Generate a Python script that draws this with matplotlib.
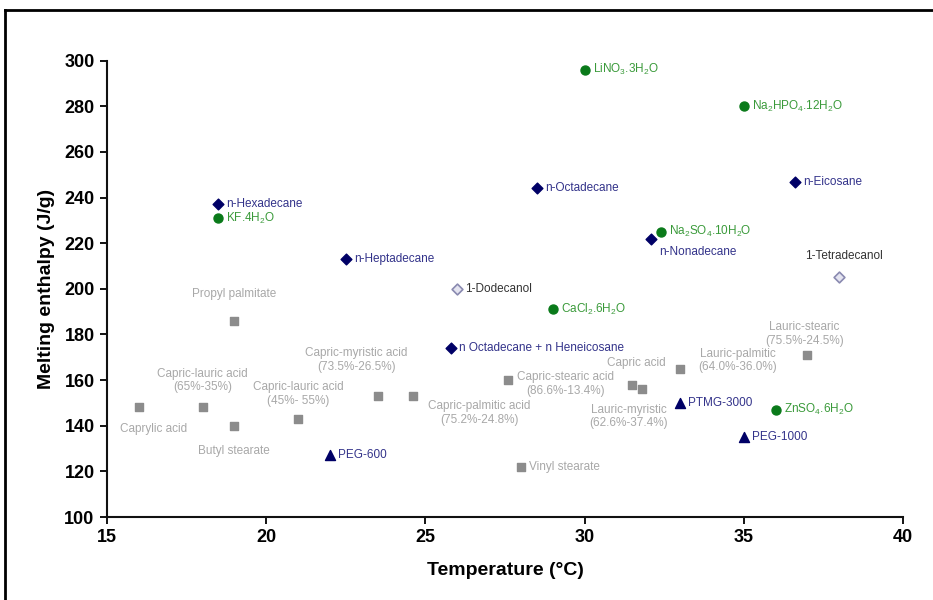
import matplotlib
matplotlib.use("Agg")
import matplotlib.pyplot as plt
from matplotlib.lines import Line2D

plt.rcParams['font.family'] = ['Liberation Sans', 'DejaVu Sans']
plt.rcParams['mathtext.fontset'] = 'custom'
plt.rcParams['mathtext.rm'] = 'Liberation Sans'
plt.rcParams['mathtext.it'] = 'Liberation Sans'
plt.rcParams['mathtext.default'] = 'regular'

# ---------------- data ----------------
alk_names = ['n-Hexadecane', 'n-Heptadecane', 'n-Octadecane', 'n-Nonadecane',
             'n-Eicosane', 'n Octadecane + n Heneicosane']
alk_T = [18.5, 22.5, 28.5, 32.1, 36.6, 25.8]
alk_H = [237, 213, 244, 222, 247, 174]

salt_names = ['KF.4H$_2$O', 'LiNO$_3$.3H$_2$O', 'Na$_2$HPO$_4$.12H$_2$O',
              'Na$_2$SO$_4$.10H$_2$O', 'CaCl$_2$.6H$_2$O', 'ZnSO$_4$.6H$_2$O']
salt_T = [18.5, 30, 35, 32.4, 29, 36]
salt_H = [231, 296, 280, 225, 191, 147]

alc_names = ['1-Dodecanol', '1-Tetradecanol']
alc_T = [26, 38]
alc_H = [200, 205]

fa_names = ['Caprylic acid', 'Capric-lauric acid\n(65%-35%)', 'Propyl palmitate',
            'Butyl stearate', 'Capric-lauric acid\n(45%- 55%)',
            'Capric-myristic acid\n(73.5%-26.5%)', 'Capric-palmitic acid\n(75.2%-24.8%)',
            'Capric-stearic acid\n(86.6%-13.4%)', 'Vinyl stearate', 'Capric acid',
            'Lauric-myristic\n(62.6%-37.4%)', 'Lauric-palmitic\n(64.0%-36.0%)',
            'Lauric-stearic\n(75.5%-24.5%)']
fa_T = [16, 18, 19, 19, 21, 23.5, 24.6, 27.6, 28, 31.5, 31.8, 33, 37]
fa_H = [148, 148, 186, 140, 143, 153, 153, 160, 122, 158, 156, 165, 171]

poly_names = ['PEG-600', 'PTMG-3000', 'PEG-1000']
poly_T = [22, 33, 35]
poly_H = [127, 150, 135]

x_ticks = [15, 20, 25, 30, 35, 40]
y_ticks = [100, 120, 140, 160, 180, 200, 220, 240, 260, 280, 300]

# ---------------- label layout (pixel offsets, ha) ----------------
R = (8, 0, 'left')
alk_off = [R, R, R, (8, -13, 'left'), R, R]
salt_off = [R, R, R, R, R, R]
alc_off = [R, (5, 21, 'center')]
fa_off = [(15, -22, 'center'), (0, 27, 'center'), (0, 27, 'center'),
          (0, -25, 'center'), (0, 25, 'center'), (-21, 36, 'center'),
          (67, -17, 'center'), (57, -4, 'center'), R, (4, 22, 'center'),
          (-13, -27, 'center'), (58, 8, 'center'), (-3, 21, 'center')]
poly_off = [R, R, R]

fig = plt.figure(figsize=(9.33, 6.0), dpi=100)
ax = fig.add_axes([107 / 933, 1 - 517 / 600, (903 - 107) / 933, (517 - 60.7) / 600])

groups = [
    (alk_T, alk_H, alk_names, alk_off, dict(marker='D', s=30, color='#000066', edgecolors='#000066'), '#33338a'),
    (salt_T, salt_H, salt_names, salt_off, dict(marker='o', s=42, color='#0a7a1a', edgecolors='#0a7a1a'), '#3a9a3a'),
    (alc_T, alc_H, alc_names, alc_off, dict(marker='D', s=30, color='#e4e4f0', edgecolors='#8a8ab0', linewidths=1.2), '#333333'),
    (fa_T, fa_H, fa_names, fa_off, dict(marker='s', s=34, color='#8c8c8c', edgecolors='#8c8c8c'), '#a8a8a8'),
    (poly_T, poly_H, poly_names, poly_off, dict(marker='^', s=52, color='#000066', edgecolors='#000066'), '#33338a'),
]

for T, H, names, offs, style, tcol in groups:
    ax.scatter(T, H, zorder=3, **style)
    for t, h, n, (dx, dy, ha) in zip(T, H, names, offs):
        ax.annotate(n, (t, h), xytext=(dx, dy), textcoords='offset pixels',
                    ha=ha, va='center', multialignment='center',
                    fontsize=8.5, color=tcol, linespacing=1.15)

ax.set_xlim(15, 40)
ax.set_ylim(100, 300)
ax.set_xticks(x_ticks)
ax.set_yticks(y_ticks)
for s in ['top', 'right']:
    ax.spines[s].set_visible(False)
for s in ['left', 'bottom']:
    ax.spines[s].set_linewidth(1.5)
    ax.spines[s].set_color('#111111')
ax.tick_params(direction='out', length=5, width=1.3, labelsize=13, pad=4)
for lab in ax.get_xticklabels() + ax.get_yticklabels():
    lab.set_fontweight('bold')
ax.set_xlabel('Temperature (°C)', fontsize=14, fontweight='bold', labelpad=11)
ax.set_ylabel('Melting enthalpy (J/g)', fontsize=14, fontweight='bold', labelpad=7)

# figure frame (top and left edges)
fig.add_artist(Line2D([5 / 933, 5 / 933], [0, 1 - 10 / 600], transform=fig.transFigure, color='black', lw=2))
fig.add_artist(Line2D([5 / 933, 1], [1 - 10 / 600, 1 - 10 / 600], transform=fig.transFigure, color='black', lw=2))

fig.savefig('out.png', dpi=100)
